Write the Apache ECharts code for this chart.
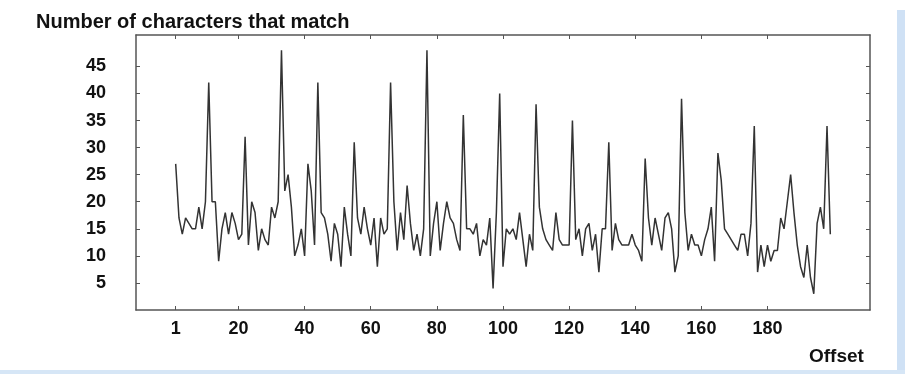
<!DOCTYPE html>
<html><head><meta charset="utf-8">
<script src="https://cdn.jsdelivr.net/npm/echarts@6/dist/echarts.min.js"></script>
<style>html,body{margin:0;padding:0;background:#fff;}#c{width:905px;height:374px;}</style>
</head><body><div id="c"></div>
<script>
const titleText = "Number of characters that match";
const xName = "Offset";
const xTicks = [1, 20, 40, 60, 80, 100, 120, 140, 160, 180];
const yTicks = [5, 10, 15, 20, 25, 30, 35, 40, 45];
const matches = [
27,17,14,17,16,15,15,19,15,20,
42,20,20,9,15,18,14,18,16,13,
14,32,12,20,18,11,15,13,12,19,
17,20,48,22,25,19,10,12,15,10,
27,22,12,42,18,17,14,9,16,14,
8,19,14,10,31,17,14,19,15,12,
17,8,17,14,15,42,20,11,18,13,
23,16,11,14,10,15,48,10,16,20,
11,16,20,17,16,13,11,36,15,15,
14,16,10,13,12,17,4,18,40,8,
15,14,15,13,18,13,8,14,11,38,
19,15,13,12,11,18,13,12,12,12,
35,13,15,10,15,16,11,14,7,15,
15,31,11,16,13,12,12,12,14,12,
11,9,28,17,12,17,14,11,17,18,
15,7,10,39,18,11,14,12,12,10,
13,15,19,9,29,24,15,14,13,12,
11,14,14,10,16,34,7,12,8,12,
9,11,11,17,15,20,25,18,12,8,
6,12,6,3,16,19,15,34,14
];
const offsets = matches.map((v, i) => i + 1);

const chart = echarts.init(document.getElementById('c'), null, {renderer: 'canvas'});
const axisCol = '#555';
const lblStyle = {fontFamily: 'Liberation Sans, Arial, sans-serif', fontWeight: 'bold', fontSize: 18, color: '#111'};
const lineSt = {show: true, onZero: false, lineStyle: {color: axisCol, width: 1.5}};
chart.setOption({
  animation: false,
  backgroundColor: '#fff',
  title: [
    {text: titleText, left: 31, top: 7, textStyle: {fontFamily: 'Liberation Sans, Arial, sans-serif', fontWeight: 'bold', fontSize: 20, color: '#111'}},
    {text: xName, left: 804, top: 342, textStyle: {fontFamily: 'Liberation Sans, Arial, sans-serif', fontWeight: 'bold', fontSize: 19, color: '#111'}}
  ],
  grid: {left: 136, right: 35, top: 35, bottom: 64},
  xAxis: [
    {type: 'value', position: 'bottom', min: -11, max: 211,
     axisLine: lineSt,
     axisTick: {show: true, inside: true, length: 4, customValues: xTicks, lineStyle: {color: axisCol}},
     axisLabel: Object.assign({customValues: xTicks, margin: 10}, lblStyle),
     splitLine: {show: false}},
    {type: 'value', position: 'top', min: -11, max: 211,
     axisLine: lineSt,
     axisTick: {show: true, inside: true, length: 4, customValues: xTicks, lineStyle: {color: axisCol}},
     axisLabel: {show: false},
     splitLine: {show: false}}
  ],
  yAxis: [
    {type: 'value', position: 'left', min: 0, max: 50.8,
     axisLine: lineSt,
     axisTick: {show: true, inside: true, length: 4, customValues: yTicks, lineStyle: {color: axisCol}},
     axisLabel: Object.assign({customValues: yTicks, margin: 30}, lblStyle),
     splitLine: {show: false}},
    {type: 'value', position: 'right', min: 0, max: 50.8,
     axisLine: lineSt,
     axisTick: {show: true, inside: true, length: 4, customValues: yTicks, lineStyle: {color: axisCol}},
     axisLabel: {show: false},
     splitLine: {show: false}}
  ],
  series: [{
    type: 'line', xAxisIndex: 0, yAxisIndex: 0,
    data: offsets.map((o, i) => [o, matches[i]]),
    showSymbol: false, symbol: 'none',
    lineStyle: {color: '#333', width: 1.5}
  }],
  graphic: [
    {type: 'rect', shape: {x: 897, y: 10, width: 8, height: 364}, style: {fill: '#cfe1f5'}, silent: true},
    {type: 'rect', shape: {x: 0, y: 370, width: 905, height: 4}, style: {fill: '#d6e6f6'}, silent: true}
  ]
});
</script></body></html>
